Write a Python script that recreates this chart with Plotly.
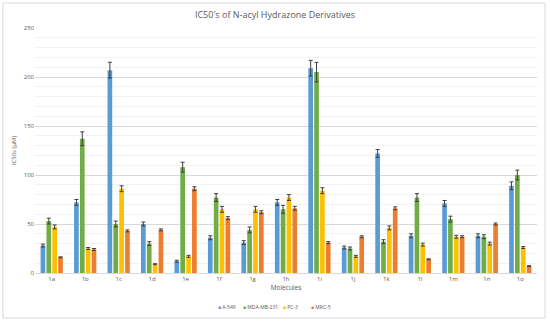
import plotly.graph_objects as go

molecules = ["1a","1b","1c","1d","1e","1f","1g","1h","1i","1j","1k","1l","1m","1n","1o"]
a549 = [28, 72, 207, 50, 12, 36, 31, 72, 209, 26, 122, 38, 71, 38, 89]
a549_err = [1.5, 3, 8, 2, 1, 2, 2, 3, 8, 1.5, 4, 2, 3, 2, 4]
mda = [53, 137, 50, 30, 108, 77, 44, 65, 205, 25, 32, 77, 55, 37, 100]
mda_err = [3, 7, 3, 2, 5, 4, 3, 4, 10, 1.5, 2, 4, 3, 2, 5]
pc3 = [47, 25, 86, 9, 17, 65, 65, 77, 84, 17, 46, 29, 37, 30, 26]
pc3_err = [2, 1, 3, 0.5, 1, 3, 3, 3, 3, 1, 2, 1.5, 1.5, 1.5, 1]
mrc5 = [16, 24, 43, 44, 86, 56, 62, 66, 31, 37, 66, 14, 37, 50, 7]
mrc5_err = [0.5, 1, 1, 1, 2, 1.5, 1.5, 2, 1, 1, 1.5, 0.5, 1, 1, 0.5]

series = [
    ("A-549", a549, a549_err, "#5B9BD5"),
    ("MDA-MB-231", mda, mda_err, "#70AD47"),
    ("PC-3", pc3, pc3_err, "#FFC000"),
    ("MRC-5", mrc5, mrc5_err, "#ED7D31"),
]
legend_ids = ["legend", "legend2", "legend3", "legend4"]
legend_x = [218, 243, 283, 311]  # left edge of each legend entry's swatch (px)

fig = go.Figure()
for name, vals, errs, col in series:
    fig.add_trace(go.Bar(
        x=molecules, y=vals, name=name, marker_color=col, marker_line_width=0,
        showlegend=False,
        error_y=dict(type="data", array=errs, color="#404040", thickness=1, width=2),
    ))
# legend entries: colored square glyph in the label, hidden default symbol
for (name, vals, errs, col), lid in zip(series, legend_ids):
    fig.add_trace(go.Scatter(
        x=[None], y=[None], mode="markers", legend=lid,
        name=f"<span style='color:{col}'>■</span> {name}",
        marker=dict(symbol="square", size=1, color="rgba(0,0,0,0)"), showlegend=True,
    ))

legend_layouts = {}
for lid, lx in zip(legend_ids, legend_x):
    legend_layouts[lid] = dict(
        orientation="h", x=(lx - 40) / 550, xanchor="left", xref="container",
        y=1 - 307 / 323, yanchor="middle", yref="container",
        font=dict(size=5, color="#595959"), itemwidth=30,
        bgcolor="rgba(0,0,0,0)", borderwidth=0,
    )

fig.update_layout(
    width=550, height=323,
    margin=dict(l=35, r=13, t=28, b=50, autoexpand=False),
    paper_bgcolor="white", plot_bgcolor="white",
    font=dict(family="Open Sans, Liberation Sans, sans-serif", size=6, color="#595959"),
    title=dict(text="IC50's of N-acyl Hydrazone Derivatives", x=0.5, xanchor="center",
               y=1 - 15 / 323, yanchor="middle", yref="container",
               font=dict(size=9, color="#595959")),
    barmode="group", bargap=0.3, bargroupgap=0.2,
    showlegend=True,
    xaxis=dict(title=dict(text="Molecules", font=dict(size=6.5, color="#595959"), standoff=8),
               showline=True, linecolor="#D9D9D9", linewidth=1, ticks="",
               automargin=False, tickfont=dict(size=6, color="#595959")),
    yaxis=dict(title=dict(text="IC50s (µM)", font=dict(size=6, color="#595959"), standoff=6),
               range=[0, 250], dtick=50, gridcolor="#D9D9D9", gridwidth=1,
               minor=dict(dtick=10, showgrid=True, gridcolor="#F2F2F2", gridwidth=1),
               automargin=False,
               zeroline=False, tickfont=dict(size=6, color="#595959")),
    shapes=[dict(type="rect", xref="paper", yref="paper", x0=-0.064, x1=1.016, y0=-0.184, y1=1.102,
                 line=dict(color="#D9D9D9", width=1), fillcolor="rgba(0,0,0,0)", layer="below")],
    **legend_layouts,
)

fig.write_html("out.html", config={"displayModeBar": False},
               post_script="document.body.style.margin='0';")
